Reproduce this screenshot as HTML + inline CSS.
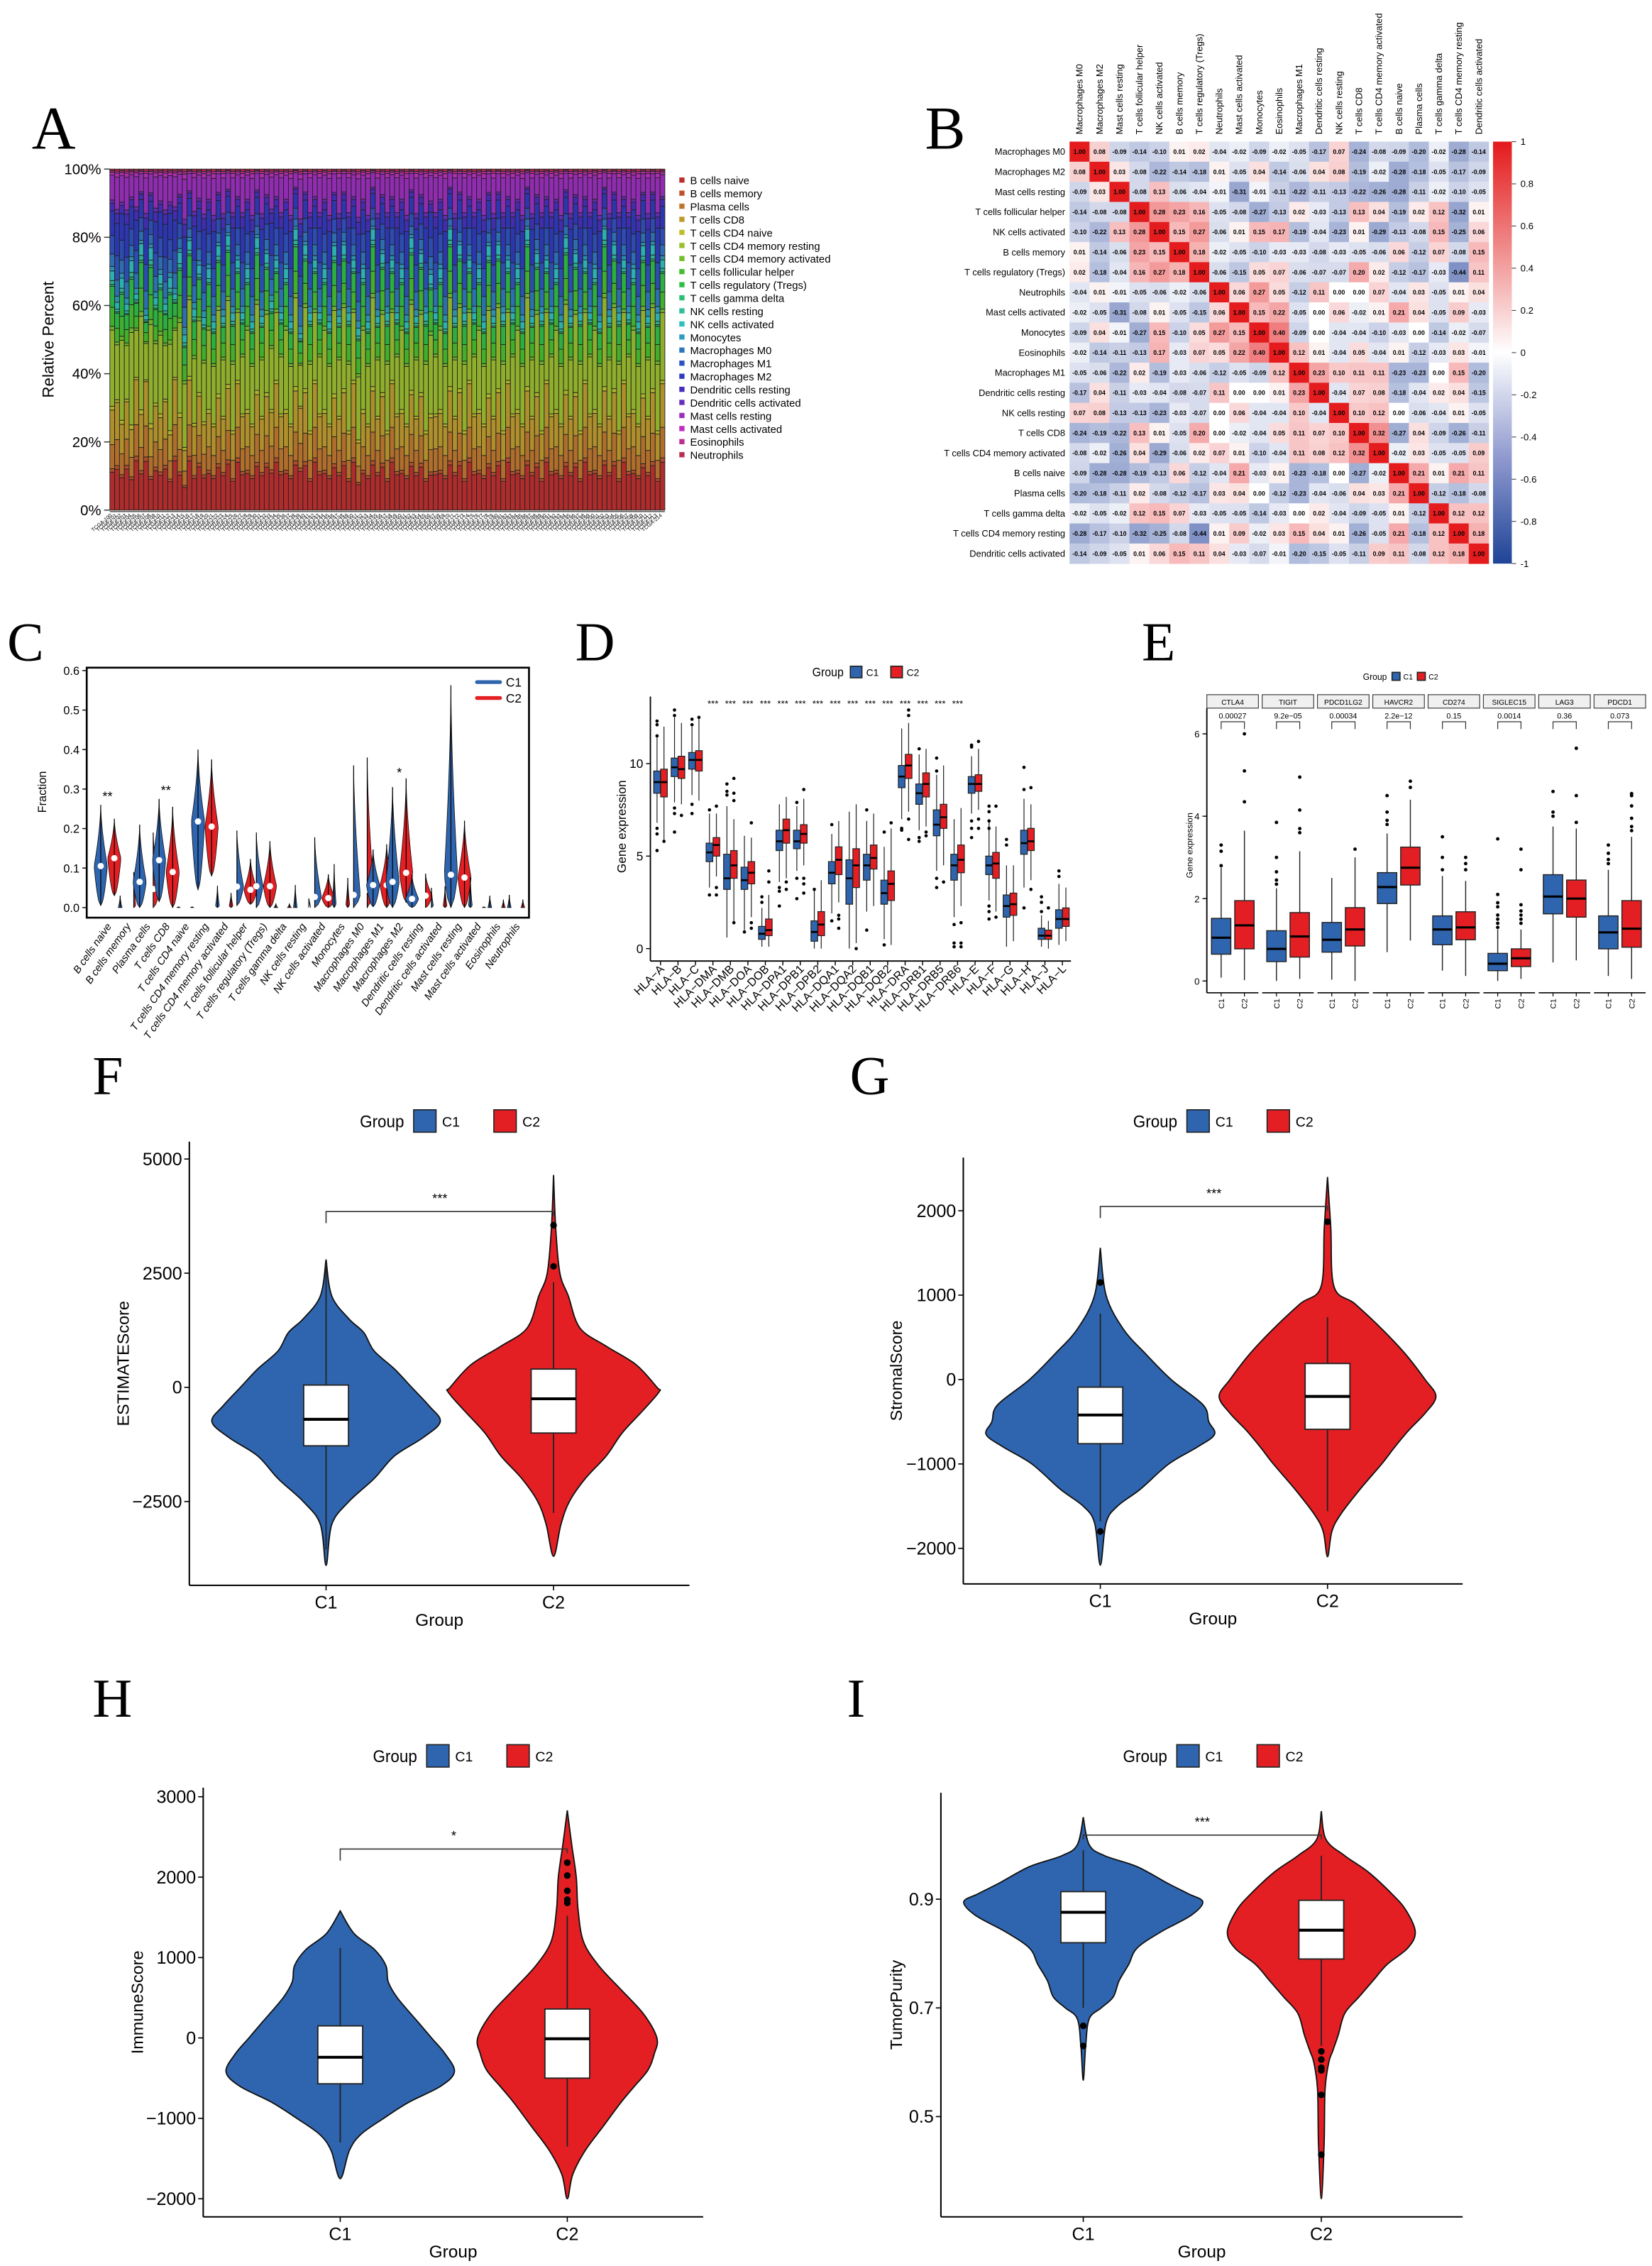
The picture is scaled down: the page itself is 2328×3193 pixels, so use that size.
<!DOCTYPE html>
<html><head><meta charset="utf-8">
<style>
html,body{margin:0;padding:0;background:#fff}
svg{display:block}
text{font-family:"Liberation Sans",Arial,sans-serif;fill:#000}
.nar{font-family:"Liberation Sans Narrow","Liberation Sans",Arial,sans-serif}
.lab{font-family:"Liberation Serif","Times New Roman",serif}
</style></head>
<body>
<svg id="fig" xmlns="http://www.w3.org/2000/svg" width="2328" height="3193" viewBox="0 0 1143 1568" preserveAspectRatio="none"></svg>
<script>
// ================= DATA =================
// Panel A: stacked composition
const cellTypes=["B cells naive","B cells memory","Plasma cells","T cells CD8","T cells CD4 naive","T cells CD4 memory resting","T cells CD4 memory activated","T cells follicular helper","T cells regulatory (Tregs)","T cells gamma delta","NK cells resting","NK cells activated","Monocytes","Macrophages M0","Macrophages M1","Macrophages M2","Dendritic cells resting","Dendritic cells activated","Mast cells resting","Mast cells activated","Eosinophils","Neutrophils"];
const cellHue=[0,15,30,45,60,75,90,110,130,150,165,180,195,210,225,235,250,265,285,300,320,345];
const cellMean=[0.11,0.01,0.07,0.10,0.01,0.20,0.01,0.05,0.055,0.005,0.01,0.025,0.015,0.04,0.06,0.08,0.025,0.01,0.08,0.01,0.005,0.005];
const sampleB="5746385927463851947362857394628576946285739462857391628573946285734462857394628573946285739462857394628573946285739";
const sampleT="6473829175638294756382947563829475638291756382947563829475638294756382947563829475638294756382947563829475638294756";
const sampleM="4857362918475639284756391847562938475619284756392847561938475629384756192847563928475619384756293847561928475639284";
const aTicks=[0,20,40,60,80,100];

// Panel B: correlation matrix
const hmNames=["Macrophages M0","Macrophages M2","Mast cells resting","T cells follicular helper","NK cells activated","B cells memory","T cells regulatory (Tregs)","Neutrophils","Mast cells activated","Monocytes","Eosinophils","Macrophages M1","Dendritic cells resting","NK cells resting","T cells CD8","T cells CD4 memory activated","B cells naive","Plasma cells","T cells gamma delta","T cells CD4 memory resting","Dendritic cells activated"];
const hmVals=[
[1.00,0.08,-0.09,-0.14,-0.10,0.01,0.02,-0.04,-0.02,-0.09,-0.02,-0.05,-0.17,0.07,-0.24,-0.08,-0.09,-0.20,-0.02,-0.28,-0.14],
[0.08,1.00,0.03,-0.08,-0.22,-0.14,-0.18,0.01,-0.05,0.04,-0.14,-0.06,0.04,0.08,-0.19,-0.02,-0.28,-0.18,-0.05,-0.17,-0.09],
[-0.09,0.03,1.00,-0.08,0.13,-0.06,-0.04,-0.01,-0.31,-0.01,-0.11,-0.22,-0.11,-0.13,-0.22,-0.26,-0.28,-0.11,-0.02,-0.10,-0.05],
[-0.14,-0.08,-0.08,1.00,0.28,0.23,0.16,-0.05,-0.08,-0.27,-0.13,0.02,-0.03,-0.13,0.13,0.04,-0.19,0.02,0.12,-0.32,0.01],
[-0.10,-0.22,0.13,0.28,1.00,0.15,0.27,-0.06,0.01,0.15,0.17,-0.19,-0.04,-0.23,0.01,-0.29,-0.13,-0.08,0.15,-0.25,0.06],
[0.01,-0.14,-0.06,0.23,0.15,1.00,0.18,-0.02,-0.05,-0.10,-0.03,-0.03,-0.08,-0.03,-0.05,-0.06,0.06,-0.12,0.07,-0.08,0.15],
[0.02,-0.18,-0.04,0.16,0.27,0.18,1.00,-0.06,-0.15,0.05,0.07,-0.06,-0.07,-0.07,0.20,0.02,-0.12,-0.17,-0.03,-0.44,0.11],
[-0.04,0.01,-0.01,-0.05,-0.06,-0.02,-0.06,1.00,0.06,0.27,0.05,-0.12,0.11,0.00,0.00,0.07,-0.04,0.03,-0.05,0.01,0.04],
[-0.02,-0.05,-0.31,-0.08,0.01,-0.05,-0.15,0.06,1.00,0.15,0.22,-0.05,0.00,0.06,-0.02,0.01,0.21,0.04,-0.05,0.09,-0.03],
[-0.09,0.04,-0.01,-0.27,0.15,-0.10,0.05,0.27,0.15,1.00,0.40,-0.09,0.00,-0.04,-0.04,-0.10,-0.03,0.00,-0.14,-0.02,-0.07],
[-0.02,-0.14,-0.11,-0.13,0.17,-0.03,0.07,0.05,0.22,0.40,1.00,0.12,0.01,-0.04,0.05,-0.04,0.01,-0.12,-0.03,0.03,-0.01],
[-0.05,-0.06,-0.22,0.02,-0.19,-0.03,-0.06,-0.12,-0.05,-0.09,0.12,1.00,0.23,0.10,0.11,0.11,-0.23,-0.23,0.00,0.15,-0.20],
[-0.17,0.04,-0.11,-0.03,-0.04,-0.08,-0.07,0.11,0.00,0.00,0.01,0.23,1.00,-0.04,0.07,0.08,-0.18,-0.04,0.02,0.04,-0.15],
[0.07,0.08,-0.13,-0.13,-0.23,-0.03,-0.07,0.00,0.06,-0.04,-0.04,0.10,-0.04,1.00,0.10,0.12,0.00,-0.06,-0.04,0.01,-0.05],
[-0.24,-0.19,-0.22,0.13,0.01,-0.05,0.20,0.00,-0.02,-0.04,0.05,0.11,0.07,0.10,1.00,0.32,-0.27,0.04,-0.09,-0.26,-0.11],
[-0.08,-0.02,-0.26,0.04,-0.29,-0.06,0.02,0.07,0.01,-0.10,-0.04,0.11,0.08,0.12,0.32,1.00,-0.02,0.03,-0.05,-0.05,0.09],
[-0.09,-0.28,-0.28,-0.19,-0.13,0.06,-0.12,-0.04,0.21,-0.03,0.01,-0.23,-0.18,0.00,-0.27,-0.02,1.00,0.21,0.01,0.21,0.11],
[-0.20,-0.18,-0.11,0.02,-0.08,-0.12,-0.17,0.03,0.04,0.00,-0.12,-0.23,-0.04,-0.06,0.04,0.03,0.21,1.00,-0.12,-0.18,-0.08],
[-0.02,-0.05,-0.02,0.12,0.15,0.07,-0.03,-0.05,-0.05,-0.14,-0.03,0.00,0.02,-0.04,-0.09,-0.05,0.01,-0.12,1.00,0.12,0.12],
[-0.28,-0.17,-0.10,-0.32,-0.25,-0.08,-0.44,0.01,0.09,-0.02,0.03,0.15,0.04,0.01,-0.26,-0.05,0.21,-0.18,0.12,1.00,0.18],
[-0.14,-0.09,-0.05,0.01,0.06,0.15,0.11,0.04,-0.03,-0.07,-0.01,-0.20,-0.15,-0.05,-0.11,0.09,0.11,-0.08,0.12,0.18,1.00]];
const cbTicks=[1,0.8,0.6,0.4,0.2,0,-0.2,-0.4,-0.6,-0.8,-1];

// Panel C: violin fractions
const cCats=["B cells naive","B cells memory","Plasma cells","T cells CD8","T cells CD4 naive","T cells CD4 memory resting","T cells CD4 memory activated","T cells follicular helper","T cells regulatory (Tregs)","T cells gamma delta","NK cells resting","NK cells activated","Monocytes","Macrophages M0","Macrophages M1","Macrophages M2","Dendritic cells resting","Dendritic cells activated","Mast cells resting","Mast cells activated","Eosinophils","Neutrophils"];
const cC1Med=[0.105,0.0,0.065,0.12,0,0.218,0.005,0.053,0.054,0,0,0.027,0.01,0.032,0.057,0.065,0.022,0.005,0.083,0.005,0,0];
const cC1Max=[0.26,0.03,0.21,0.275,0.002,0.40,0.055,0.195,0.19,0.01,0.057,0.178,0.11,0.36,0.147,0.305,0.083,0.05,0.563,0.076,0.03,0.032];
const cC1Min=[0.005,0,0,0.015,0,0.045,0,0.005,0,0,0,0,0,0,0.002,0,0,0,0,0,0,0];
const cC2Med=[0.125,0.005,0.047,0.09,0,0.205,0.005,0.045,0.054,0,0,0.024,0.008,0.045,0.057,0.088,0.03,0.005,0.076,0,0,0];
const cC2Max=[0.225,0.09,0.19,0.255,0.002,0.375,0.037,0.123,0.168,0.01,0.023,0.084,0.075,0.38,0.16,0.327,0.086,0.054,0.22,0.002,0.02,0.02];
const cC2Min=[0.03,0,0,0,0,0.08,0,0.008,0,0,0,0,0,0,0,0.013,0,0,0,0,0,0];
const cSig={0:["**",0.27],3:["**",0.285],15:["*",0.33]};
const cTicks=[0,0.1,0.2,0.3,0.4,0.5,0.6];

// Panel D: HLA boxplots [q1,med,q3,lo,hi]
const dGenes=["HLA\u2212A","HLA\u2212B","HLA\u2212C","HLA\u2212DMA","HLA\u2212DMB","HLA\u2212DOA","HLA\u2212DOB","HLA\u2212DPA1","HLA\u2212DPB1","HLA\u2212DPB2","HLA\u2212DQA1","HLA\u2212DQA2","HLA\u2212DQB1","HLA\u2212DQB2","HLA\u2212DRA","HLA\u2212DRB1","HLA\u2212DRB5","HLA\u2212DRB6","HLA\u2212E","HLA\u2212F","HLA\u2212G","HLA\u2212H","HLA\u2212J","HLA\u2212L"];
const dC1=[[8.4,9.0,9.6,6.8,11.4],[9.3,9.8,10.3,7.9,12.5],[9.7,10.2,10.6,8.3,12.0],[4.7,5.2,5.7,3.3,7.3],[3.2,3.8,5.1,0.6,7.7],[3.2,3.7,4.4,1.0,6.1],[0.5,0.8,1.2,0.1,2.2],[5.3,5.8,6.4,3.6,7.8],[5.4,5.8,6.4,4.2,7.7],[0.4,0.9,1.5,0,3.2],[3.5,4.1,4.7,1.9,6.2],[2.4,3.8,4.8,0,7.4],[3.7,4.5,5.1,2.0,6.9],[2.4,3.0,3.7,0.5,5.5],[8.7,9.3,9.9,7.0,11.9],[7.8,8.4,8.9,6.4,10.5],[6.1,6.7,7.5,4.2,9.4],[3.7,4.5,5.1,1.7,7.0],[8.4,8.9,9.3,7.3,10.4],[4.0,4.5,5.0,2.6,7.0],[1.7,2.3,2.9,0.1,4.5],[5.1,5.7,6.4,3.3,8.1],[0.5,0.7,1.1,0.1,1.8],[1.1,1.6,2.1,0.2,3.5]];
const dC2=[[8.2,9.0,9.7,5.9,12.0],[9.2,9.7,10.4,7.8,12.2],[9.6,10.2,10.7,8.0,12.5],[5.0,5.6,6.0,3.9,7.3],[3.8,4.5,5.3,1.4,7.0],[3.5,4.1,4.7,1.7,6.0],[0.7,1.0,1.6,0.1,2.9],[5.7,6.4,7.0,3.8,8.2],[5.7,6.2,6.7,4.5,8.1],[0.7,1.3,2.0,0,3.7],[4.0,4.8,5.5,2.5,6.9],[3.3,4.5,5.4,0.3,7.8],[4.3,4.9,5.6,2.3,7.3],[2.6,3.5,4.2,0.2,6.5],[9.2,9.9,10.5,7.4,12.2],[8.2,8.9,9.5,6.6,10.8],[6.5,7.1,7.8,4.5,9.9],[4.1,4.8,5.6,2.3,7.6],[8.5,8.9,9.4,7.5,10.8],[3.8,4.6,5.2,2.0,6.6],[1.8,2.4,3.0,0.4,4.5],[5.3,5.8,6.5,3.7,7.8],[0.5,0.7,1.0,0.0,1.5],[1.2,1.6,2.2,0.4,3.3]];
const dOut1=[[12.3,12.1,11.5,6.5,6.2,5.3],[12.9,12.6,7.6,7.3,6.3],[12.4,12.1,7.8,7.3],[7.5,2.9],[8.9,8.5,8.3],[0.9],[2.8,2.5],[3.3,3.1,2.3],[7.9,3.8,2.7],[3.2],[6.7,1.5],[],[7.5,1.0],[6.3,0.2],[6.5,6.4],[10.8,6.0,5.8],[10.3,9.6,3.8,3.3],[1.3,0.3,0.1],[11.0,10.9,6.9,6.5,6.0],[7.7,7.4,6.9,6.5,2.3,2.0,1.6],[5.9,5.6],[9.8,8.6,2.2],[2.8,2.5,2.0],[4.2,3.9]];
const dOut2=[[5.8],[7.2],[12.5],[7.7,3.3,2.9],[9.2,8.4,8.0,1.4],[6.8,1.4,1.1],[4.2,3.6],[3.6,3.2],[8.6,3.8,3.5,3.0],[],[1.8,1.6,1.1],[0],[],[6.8],[12.9,12.6,7.0,5.9],[6.3,6.1],[3.6],[1.4,0.3,0.1],[11.2,7.0,6.5],[7.7,1.7],[],[8.7,3.2],[2.2],[]];
const dSigFrom=3,dSigTo=17;
const dTicks=[0,5,10];

// Panel E: checkpoint boxplots
const eGenes=["CTLA4","TIGIT","PDCD1LG2","HAVCR2","CD274","SIGLEC15","LAG3","PDCD1"];
const ePvals=["0.00027","9.2e\u221205","0.00034","2.2e\u221212","0.15","0.0014","0.36","0.073"];
const eC1=[[0.65,1.05,1.52,0.08,2.75],[0.47,0.78,1.22,0,2.25],[0.7,1.0,1.42,0.03,2.5],[1.88,2.28,2.63,0.7,3.58],[0.88,1.25,1.58,0.25,2.55],[0.25,0.42,0.67,0,1.25],[1.63,2.05,2.58,0.45,3.75],[0.78,1.18,1.58,0.12,2.7]];
const eC2=[[0.78,1.35,1.95,0.02,3.65],[0.58,1.08,1.66,0.05,3.15],[0.85,1.25,1.78,0,3.0],[2.33,2.75,3.25,0.98,4.4],[1.0,1.3,1.68,0.12,2.43],[0.35,0.55,0.78,0.05,1.25],[1.55,2.0,2.45,0.5,3.7],[0.82,1.27,1.95,0.05,3.5]];
const eOut1=[[3.3,3.15,2.8],[3.85,3.0,2.65,2.45,2.35],[],[4.5,4.1,3.9,3.8],[3.5,3.0,2.7],[3.45,2.1,1.9,1.8,1.6,1.5,1.4,1.3],[4.6,4.1,4.0],[3.3,3.1,2.95,2.85]];
const eOut2=[[6.0,5.1,4.35],[4.95,4.15,3.7,3.6],[3.2],[4.85,4.7],[3.0,2.85,2.7],[3.2,2.7,1.85,1.7,1.6,1.5,1.4],[5.65,4.5,3.85],[4.55,4.5,4.25,3.95,3.75,3.65]];
const eTicks=[0,2,4,6];

// Panels F-I: score violins
const fC1Lev=[2800,2000,1500,1200,800,400,0,-400,-750,-1100,-1500,-2000,-2500,-3000,-3900];
const fC1Den=[0,0.05,0.2,0.33,0.42,0.6,0.75,0.9,1.0,0.85,0.6,0.42,0.2,0.05,0];
const fC2Lev=[4650,3500,2500,2000,1300,900,500,0,-100,-500,-1000,-1500,-2000,-2500,-3000,-3700];
const fC2Den=[0,0.02,0.06,0.14,0.25,0.5,0.78,0.98,1.0,0.85,0.65,0.5,0.3,0.15,0.07,0];
const fBox1=[-1280,-700,50,-3550,2700], fBox2=[-1000,-250,400,-2750,2300];
const fOut1=[], fOut2=[2650,3550];
const fTicks=[-2500,0,2500,5000];

const gC1Lev=[1560,1000,600,300,0,-300,-500,-650,-800,-1000,-1300,-1500,-1700,-2200];
const gC1Den=[0,0.05,0.2,0.4,0.62,0.9,0.95,1.0,0.85,0.6,0.35,0.15,0.05,0];
const gC2Lev=[2400,1800,1100,900,600,300,0,-200,-400,-600,-800,-1000,-1300,-1600,-1800,-2100];
const gC2Den=[0,0.03,0.06,0.25,0.5,0.72,0.9,1.0,0.9,0.75,0.62,0.5,0.3,0.12,0.04,0];
const gBox1=[-760,-420,-90,-1680,780], gBox2=[-590,-200,190,-1560,740];
const gOut1=[1150,-1800], gOut2=[1870];
const gTicks=[-2000,-1000,0,1000,2000];

const hC1Lev=[1580,1300,1100,900,700,500,200,0,-200,-420,-600,-800,-1000,-1200,-1400,-1750];
const hC1Den=[0,0.12,0.3,0.4,0.42,0.5,0.68,0.8,0.92,1.0,0.88,0.6,0.38,0.18,0.08,0];
const hC2Lev=[2830,2400,2000,1600,1200,900,600,300,0,-200,-400,-600,-800,-1100,-1400,-1700,-2000];
const hC2Den=[0,0.05,0.1,0.12,0.18,0.35,0.6,0.85,1.0,0.97,0.9,0.75,0.6,0.4,0.2,0.06,0];
const hBox1=[-570,-240,150,-1300,1120], hBox2=[-500,-10,360,-1350,1520];
const hOut1=[], hOut2=[2180,2020,1830,1720,1680];
const hTicks=[-2000,-1000,0,1000,2000,3000];

const iC1Lev=[1.051,1.0,0.98,0.96,0.93,0.91,0.895,0.87,0.84,0.81,0.78,0.75,0.72,0.70,0.68,0.63,0.567];
const iC1Den=[0,0.05,0.18,0.45,0.7,0.88,1.0,0.9,0.65,0.45,0.38,0.3,0.25,0.15,0.05,0.02,0];
const iC2Lev=[1.062,1.01,0.98,0.95,0.91,0.88,0.84,0.81,0.78,0.75,0.72,0.69,0.65,0.62,0.60,0.55,0.45,0.349];
const iC2Den=[0,0.05,0.25,0.5,0.75,0.9,1.0,0.92,0.7,0.55,0.4,0.25,0.18,0.12,0.08,0.04,0.03,0];
const iBox1=[0.82,0.876,0.914,0.70,0.99], iBox2=[0.79,0.843,0.898,0.63,0.98];
const iOut1=[0.667,0.63], iOut2=[0.62,0.605,0.59,0.585,0.54,0.43];
const iTicks=[0.5,0.7,0.9];

// ================= DRAWING =================
const NS='http://www.w3.org/2000/svg';
const root=document.getElementById('fig');
const BLUE='#2f65ae', RED='#e31f24';
function mk(tag,attrs,parent){const e=document.createElementNS(NS,tag);for(const k in attrs)e.setAttribute(k,attrs[k]);(parent||root).appendChild(e);return e;}
function T(str,x,y,size,extra,parent){const e=mk('text',Object.assign({x:x,y:y,'font-size':size},extra||{}),parent);e.textContent=str;return e;}
function G(name){const g=mk('g',{});


return g;}
function smoothPath(pts){let d='M'+pts[0][0]+','+pts[0][1];for(let i=0;i<pts.length-1;i++){const p0=pts[Math.max(0,i-1)],p1=pts[i],p2=pts[i+1],p3=pts[Math.min(pts.length-1,i+2)];const c1=[p1[0]+(p2[0]-p0[0])/6,p1[1]+(p2[1]-p0[1])/6],c2=[p2[0]-(p3[0]-p1[0])/6,p2[1]-(p3[1]-p1[1])/6];d+=' C'+c1[0]+','+c1[1]+' '+c2[0]+','+c2[1]+' '+p2[0]+','+p2[1];}return d;}

// panel letters
const letters=[["A",22,103],["B",640,103],["C",5,457],["D",398,457],["E",790,457],["F",64,757],["G",588,757],["H",64,1188],["I",586,1188]];
for(const L of letters){const t=T(L[0],L[1],L[2],L[0]==="A"||L[0]==="B"?42:38,{class:'lab'});

}

// ---------- Panel A ----------
(function(){
const g=G('panel-a-stacked-bar');
const x0=76,x1=460,yb=353,yt=117;
const yA=p=>yb-p*(yb-yt);
const n=115,bw=(x1-x0)/n;
const fac=(s,i)=>0.5+parseInt(s[i%s.length])*0.11;
for(let i=0;i<n;i++){
 const f=cellMean.map((m,j)=>m*(j<4?fac(sampleB,i):(j<12?fac(sampleT,i):fac(sampleM,i))));
 const s=f.reduce((a,b)=>a+b,0);let cum=0;
 for(let j=0;j<f.length;j++){const h=f[j]/s;
  const r=mk('rect',{x:x0+i*bw,y:yA(cum+h),width:bw,height:h*(yb-yt),fill:`hsl(${cellHue[j]},60%,43%)`,stroke:'#222','stroke-width':0.45},g);
  
  
  cum+=h;}
 const lt=T('TCGA-'+(100+i),x0+i*bw+bw/2,357,3.6,{'text-anchor':'end',fill:'#555',transform:`rotate(-40 ${x0+i*bw+bw/2} 357)`},g);
 
 
}
mk('line',{x1:x0,x2:x1,y1:yb+1,y2:yb+1,stroke:'#333','stroke-width':0.6},g);
for(const t of aTicks){const y=yA(t/100);mk('line',{x1:x0-4,x2:x0,y1:y,y2:y,stroke:'#333','stroke-width':0.7},g);
 const tl=T(t+'%',x0-6,y+3.5,10,{'text-anchor':'end'},g);
 
 }
const yt2=T('Relative Percent',37,235,11,{'text-anchor':'middle',transform:'rotate(-90 37 235)'},g);


for(let j=0;j<cellTypes.length;j++){const y=125+j*9.05;
 const sq=mk('rect',{x:470,y:y-2.2,width:3.6,height:3.6,fill:`hsl(${cellHue[j]},62%,46%)`},g);
 
 
 const lt=T(cellTypes[j],477.5,y+2.5,7.3,{class:'nar'},g);
 
 }
})();

// ---------- Panel B ----------
(function(){
const g=G('panel-b-heatmap');
const X0=740,Y0=98,N=hmNames.length,cw=290/N,ch=292/N;
function col(v){const t=Math.pow(Math.min(1,Math.abs(v)),0.62);const c=v>=0?[228,28,30]:[42,72,158];return `rgb(${Math.round(255+(c[0]-255)*t)},${Math.round(255+(c[1]-255)*t)},${Math.round(255+(c[2]-255)*t)})`;}
for(let r=0;r<N;r++){for(let c=0;c<N;c++){const v=hmVals[r][c];
 const cell=mk('rect',{x:X0+c*cw,y:Y0+r*ch,width:cw+0.2,height:ch+0.2,fill:col(v)},g);
 
 
 const vt=T(v.toFixed(2),X0+c*cw+cw/2,Y0+r*ch+ch/2+1.6,4.3,{'text-anchor':'middle','font-weight':'bold',class:'nar'},g);
 
 }
 const rl=T(hmNames[r],X0-3,Y0+r*ch+ch/2+2.2,6.3,{'text-anchor':'end',class:'nar'},g);
 
 
 const cx=X0+r*cw+cw/2+2.2;
 const cl=T(hmNames[r],cx,93,6.3,{transform:`rotate(-90 ${cx} 93)`,class:'nar'},g);
 
 }
const defs=mk('defs',{},g);const lg=mk('linearGradient',{id:'cbg',x1:0,y1:0,x2:0,y2:1},defs);
[[0,'#e41a1c'],[0.25,'#f08a8a'],[0.5,'#ffffff'],[0.75,'#8f99cf'],[1,'#1f4497']].forEach(s=>mk('stop',{offset:s[0],'stop-color':s[1]},lg));
const cb=mk('rect',{x:1033,y:Y0,width:13,height:292,fill:'url(#cbg)'},g);


for(const t of cbTicks){const y=Y0+(1-t)/2*292;mk('line',{x1:1046,x2:1049,y1:y,y2:y,stroke:'#333','stroke-width':0.5},g);
 const tl=T(String(t),1052,y+2.3,6.5,{},g);
 
 }
})();

// ---------- Panel C ----------
(function(){
const g=G('panel-c-violin');
const yC=v=>628-v*273.3, xC=i=>74.4+i*13.46;
const box=mk('rect',{x:60,y:462,width:306,height:173,fill:'none',stroke:'#000','stroke-width':1.3},g);


for(const t of cTicks){const y=yC(t);mk('line',{x1:57,x2:60,y1:y,y2:y,stroke:'#000','stroke-width':0.7},g);
 const tl=T(t.toFixed(1),55,y+3,8,{'text-anchor':'end',class:'nar'},g);
 
 }
const yt=T('Fraction',32,548,8,{'text-anchor':'middle',transform:'rotate(-90 32 548)'},g);


function viol(cx,mn,md,mx,color){
 const hw=(md>0.015||mx-mn>0.12)?4.6:1.3;const L=[],R=[];const K=24;
 for(let k=0;k<=K;k++){const v=mn+(mx-mn)*k/K;let s;
  if(v<=md)s=md>mn?Math.pow((v-mn)/(md-mn),0.55):1;else s=Math.pow((mx-v)/(mx-md),1.6);
  R.push([cx+hw*s,yC(v)]);L.push([cx-hw*s,yC(v)]);}
 const pts=R.concat(L.reverse());
 const p=mk('polygon',{points:pts.map(q=>q.join(',')).join(' '),fill:color,stroke:'#111','stroke-width':0.4},g);
 
 
 mk('line',{x1:cx,x2:cx,y1:yC(mn),y2:yC(mx),stroke:'#000','stroke-width':0.6},g);
 if(md>0.015||mx-mn>0.12){const d=mk('circle',{cx:cx,cy:yC(md),r:2.2,fill:'#fff'},g);
 
 }
}
for(let i=0;i<cCats.length;i++){
 viol(xC(i)-4.7,cC1Min[i],cC1Med[i],cC1Max[i],BLUE);
 viol(xC(i)+4.7,cC2Min[i],cC2Med[i],cC2Max[i],RED);
 const lx=xC(i)+3,ly=641;
 const tl=T(cCats[i],lx,ly,7.2,{'text-anchor':'end','font-style':'italic',transform:`rotate(-55 ${lx} ${ly})`},g);
 
 
 if(cSig[i]){const s=T(cSig[i][0],xC(i),yC(cSig[i][1]),9,{'text-anchor':'middle'},g);
 
 }
}
[[BLUE,'C1',472],[RED,'C2',483]].forEach(e=>{const ln=mk('line',{x1:330,x2:346,y1:e[2],y2:e[2],stroke:e[0],'stroke-width':2.6,'stroke-linecap':'round'},g);
 
 
 const t=T(e[1],350,e[2]+3.2,8.5,{class:'nar'},g);
 
 });
})();

// generic boxplot draw
function drawBox(g,cx,hw,st,yf,color,lw){
 const w=mk('line',{x1:cx,x2:cx,y1:yf(st[3]),y2:yf(st[4]),stroke:'#222','stroke-width':lw},g);
 
 
 const b=mk('rect',{x:cx-hw,y:yf(st[2]),width:2*hw,height:yf(st[0])-yf(st[2]),fill:color,stroke:'#222','stroke-width':lw},g);
 
 
 const m=mk('line',{x1:cx-hw,x2:cx+hw,y1:yf(st[1]),y2:yf(st[1]),stroke:'#000','stroke-width':lw*2.2},g);
 
 
}
function legend(g,x,y,size,sw,gap){
 const t=T('Group',x,y+size*0.36,size,{class:'nar',textLength:size*2.55,lengthAdjust:'spacingAndGlyphs'},g);
 
 
 let cx=x+size*3.1;
 [[BLUE,'C1'],[RED,'C2']].forEach(e=>{const r=mk('rect',{x:cx,y:y-sw/2,width:sw,height:sw,fill:e[0],stroke:'#222','stroke-width':0.8},g);
 
 
 const tt=T(e[1],cx+sw+size*0.35,y+size*0.33,size*0.8,{class:'nar'},g);
 
 
 cx+=sw+gap;});
}

// ---------- Panel D ----------
(function(){
const g=G('panel-d-hla-boxplot');
const yD=v=>656.4-v*12.8, xD=i=>457+i*12.09;
mk('line',{x1:450,x2:450,y1:482,y2:665,stroke:'#000','stroke-width':0.9},g);
mk('line',{x1:450,x2:741,y1:665,y2:665,stroke:'#000','stroke-width':0.9},g);
for(const t of dTicks){const y=yD(t);mk('line',{x1:447,x2:450,y1:y,y2:y,stroke:'#000','stroke-width':0.7},g);
 const tl=T(String(t),445,y+3,8.5,{'text-anchor':'end',class:'nar'},g);
 
 }
const yt=T('Gene expression',433,572,8.5,{'text-anchor':'middle',transform:'rotate(-90 433 572)'},g);


for(let i=0;i<dGenes.length;i++){
 const c1=xD(i)-2.4,c2=xD(i)+2.4;
 drawBox(g,c1,2.3,dC1[i],yD,BLUE,0.6);drawBox(g,c2,2.3,dC2[i],yD,RED,0.6);
 dOut1[i].forEach(v=>{const o=mk('circle',{cx:c1,cy:yD(v),r:1.15,fill:'#000'},g);
 
 });
 dOut2[i].forEach(v=>{const o=mk('circle',{cx:c2,cy:yD(v),r:1.15,fill:'#000'},g);
 
 });
 mk('line',{x1:xD(i),x2:xD(i),y1:665,y2:668,stroke:'#000','stroke-width':0.7},g);
 const lx=xD(i)+3,ly=671;
 const tl=T(dGenes[i],lx,ly,8,{'text-anchor':'end',transform:`rotate(-45 ${lx} ${ly})`,class:'nar'},g);
 
 
 if(i>=dSigFrom&&i<=dSigTo){const s=T('***',xD(i),489,6.5,{'text-anchor':'middle'},g);
 
 }
}
legend(g,562,465,8.5,8,20);
})();

// ---------- Panel E ----------
(function(){
const g=G('panel-e-checkpoint-boxplot');
const yE=v=>678.8-v*28.5;
mk('line',{x1:835,x2:835,y1:490,y2:687,stroke:'#000','stroke-width':0.9},g);
for(const t of eTicks){const y=yE(t);mk('line',{x1:832,x2:835,y1:y,y2:y,stroke:'#000','stroke-width':0.7},g);
 const tl=T(String(t),830,y+2.5,6.5,{'text-anchor':'end',class:'nar'},g);
 
 }
const yt=T('Gene expression',825,585,6,{'text-anchor':'middle',transform:'rotate(-90 825 585)'},g);


for(let k=0;k<eGenes.length;k++){
 const fx=835+k*38.27,c1=fx+9.9,c2=fx+26;
 const strip=mk('rect',{x:fx,y:480.7,width:35.7,height:9.3,fill:'#f0f0f0',stroke:'#444','stroke-width':0.6},g);
 
 
 const st=T(eGenes[k],fx+17.85,487.6,5,{'text-anchor':'middle',class:'nar'},g);
 
 
 const pv=T(ePvals[k],fx+17.85,497.3,5.3,{'text-anchor':'middle',class:'nar'},g);
 
 
 mk('polyline',{points:`${c1},504.5 ${c1},499.4 ${c2},499.4 ${c2},504.5`,fill:'none',stroke:'#333','stroke-width':0.6},g);
 drawBox(g,c1,6.7,eC1[k],yE,BLUE,0.7);drawBox(g,c2,6.7,eC2[k],yE,RED,0.7);
 eOut1[k].forEach(v=>{const o=mk('circle',{cx:c1,cy:yE(v),r:1.2,fill:'#000'},g);
 
 });
 eOut2[k].forEach(v=>{const o=mk('circle',{cx:c2,cy:yE(v),r:1.2,fill:'#000'},g);
 
 });
 mk('line',{x1:fx,x2:fx+35.7,y1:687,y2:687,stroke:'#000','stroke-width':0.8},g);
 [[c1,'C1'],[c2,'C2']].forEach(e=>{mk('line',{x1:e[0],x2:e[0],y1:687,y2:689.5,stroke:'#000','stroke-width':0.6},g);
 const tl=T(e[1],e[0]+2,691,5.5,{'text-anchor':'end',transform:`rotate(-90 ${e[0]+2} 691)`,class:'nar'},g);
 
 });
}
legend(g,943,468,6.5,5.5,12);
})();

// ---------- Panels F-I ----------
function scorePanel(cfg){
 const g=G(cfg.name);
 const yf=v=>cfg.y0+(v-cfg.v0)*cfg.ppu*(-1);
 mk('line',{x1:cfg.ax0,x2:cfg.ax0,y1:cfg.top,y2:cfg.bot,stroke:'#000','stroke-width':1},g);
 mk('line',{x1:cfg.ax0,x2:cfg.ax1,y1:cfg.bot,y2:cfg.bot,stroke:'#000','stroke-width':1},g);
 for(const t of cfg.ticks){const y=yf(t);mk('line',{x1:cfg.ax0-3.5,x2:cfg.ax0,y1:y,y2:y,stroke:'#000','stroke-width':0.8},g);
  const lab=t<0?'\u2212'+Math.abs(t):String(t);
  const tl=T(lab,cfg.ax0-5,y+4.3,12.3,{'text-anchor':'end',class:'nar'},g);
  
  }
 const yt=T(cfg.ytitle,cfg.ytx,(cfg.top+cfg.bot)/2,11.5,{'text-anchor':'middle',transform:`rotate(-90 ${cfg.ytx} ${(cfg.top+cfg.bot)/2})`},g);
 
 
 const groups=[[cfg.c1x,cfg.lev1,cfg.den1,cfg.half1,cfg.box1,cfg.out1,BLUE,'C1'],[cfg.c2x,cfg.lev2,cfg.den2,cfg.half2,cfg.box2,cfg.out2,RED,'C2']];
 for(const gr of groups){
  const cx=gr[0];const R=[],L=[];
  for(let k=0;k<gr[1].length;k++){const y=yf(gr[1][k]);R.push([cx+gr[2][k]*gr[3],y]);L.push([cx-gr[2][k]*gr[3],y]);}
  const pts=R.concat(L.reverse().slice(1));
  const v=mk('path',{d:smoothPath(pts)+' Z',fill:gr[6],stroke:'#111','stroke-width':0.9},g);
  
  
  drawBox(g,cx,15.5,gr[4],yf,'#fff',0.9);
  gr[5].forEach(val=>{const o=mk('circle',{cx:cx,cy:yf(val),r:2.3,fill:'#000'},g);
  
  });
  mk('line',{x1:cx,x2:cx,y1:cfg.bot,y2:cfg.bot+3.5,stroke:'#000','stroke-width':0.8},g);
  const tl=T(gr[7],cx,cfg.bot+16,12.3,{'text-anchor':'middle',class:'nar'},g);
  
  
 }
 const xt=T('Group',(cfg.ax0+cfg.ax1)/2,cfg.bot+28,12,{'text-anchor':'middle',class:'nar'},g);
 
 
 const sy=yf(cfg.sigV);
 const br=mk('polyline',{points:`${cfg.c1x},${sy+cfg.tick1} ${cfg.c1x},${sy} ${cfg.c2x},${sy} ${cfg.c2x},${sy+cfg.tick2}`,fill:'none',stroke:'#333','stroke-width':0.8},g);
 
 
 const st=T(cfg.sig,(cfg.c1x+cfg.c2x)/2,sy-6,9,{'text-anchor':'middle'},g);
 
 
 legend(g,cfg.legX,cfg.legY,12,15.5,40);
}
scorePanel({name:'panel-f-estimate-score',ax0:131,ax1:477,top:790,bot:1097,y0:960,v0:0,ppu:79/2500,ticks:fTicks,ytitle:'ESTIMATEScore',ytx:89,
 c1x:225.6,c2x:383,lev1:fC1Lev,den1:fC1Den,half1:79,lev2:fC2Lev,den2:fC2Den,half2:73,box1:fBox1,box2:fBox2,out1:fOut1,out2:fOut2,sigV:3850,sig:'***',tick1:8,tick2:3,legX:249,legY:775.7});
scorePanel({name:'panel-g-stromal-score',ax0:666.5,ax1:1012,top:801,bot:1096,y0:954.6,v0:0,ppu:58.4/1000,ticks:gTicks,ytitle:'StromalScore',ytx:624,
 c1x:761.3,c2x:918.5,lev1:gC1Lev,den1:gC1Den,half1:79,lev2:gC2Lev,den2:gC2Den,half2:75,box1:gBox1,box2:gBox2,out1:gOut1,out2:gOut2,sigV:2050,sig:'***',tick1:8,tick2:3,legX:784,legY:775.7});
scorePanel({name:'panel-h-immune-score',ax0:140.6,ax1:486.5,top:1237,bot:1534,y0:1410.2,v0:0,ppu:55.64/1000,ticks:hTicks,ytitle:'ImmuneScore',ytx:99,
 c1x:235.4,c2x:392.5,lev1:hC1Lev,den1:hC1Den,half1:79,lev2:hC2Lev,den2:hC2Den,half2:62,box1:hBox1,box2:hBox2,out1:hOut1,out2:hOut2,sigV:2350,sig:'*',tick1:8,tick2:3,legX:258,legY:1215});
scorePanel({name:'panel-i-tumor-purity',ax0:651,ax1:1012,top:1240.6,bot:1534,y0:1314.2,v0:0.9,ppu:376,ticks:iTicks,ytitle:'TumorPurity',ytx:624,
 c1x:749.5,c2x:914.2,lev1:iC1Lev,den1:iC1Den,half1:82.7,lev2:iC2Lev,den2:iC2Den,half2:65,box1:iBox1,box2:iBox2,out1:iOut1,out2:iOut2,sigV:1.018,sig:'***',tick1:3,tick2:3,legX:777,legY:1215});
</script>
</body></html>
